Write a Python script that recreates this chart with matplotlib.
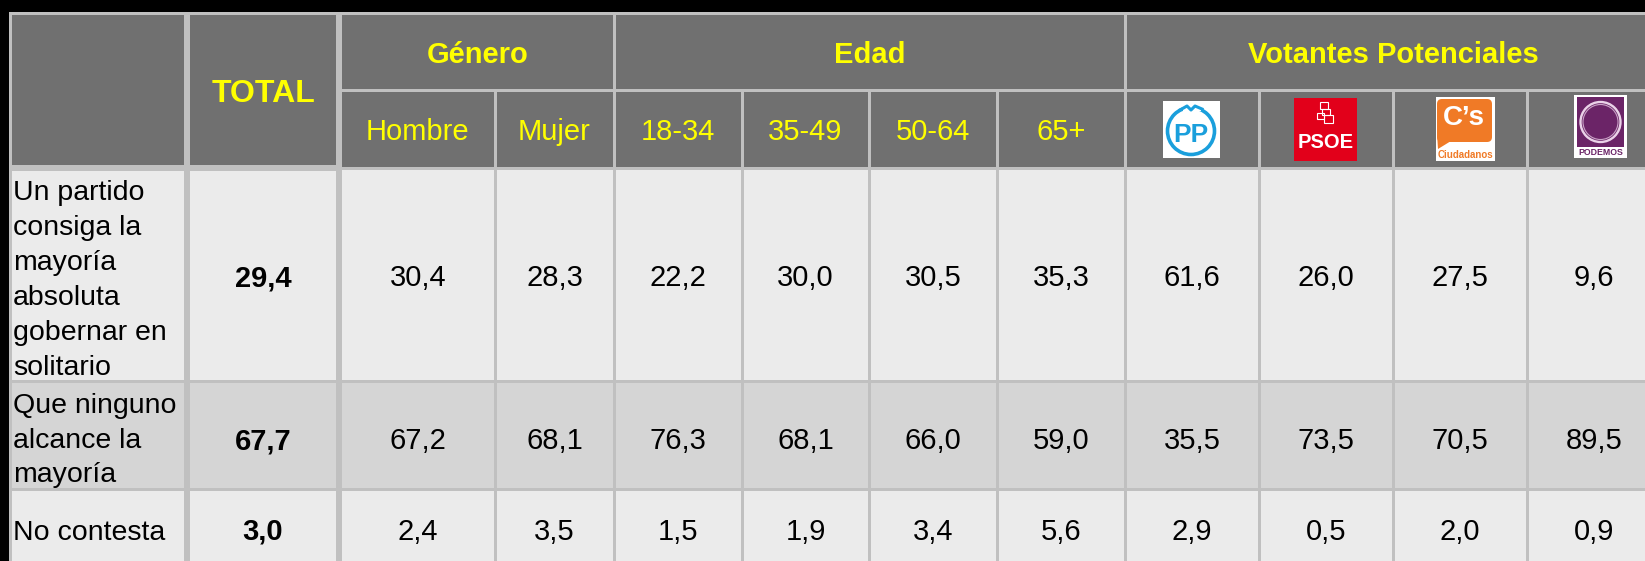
import matplotlib
matplotlib.use("Agg")
import matplotlib.pyplot as plt
from matplotlib.patches import Rectangle, Circle, FancyBboxPatch, Polygon

plt.rcParams['font.family'] = ['Liberation Sans', 'DejaVu Sans']

# ---------------- data ----------------
row_labels = [
    ["Un partido", "consiga la", "mayoría", "absoluta", "gobernar en", "solitario"],
    ["Que ninguno", "alcance la", "mayoría"],
    ["No contesta"],
]
group_labels = ["Género", "Edad", "Votantes Potenciales"]
group_spans = [(1, 2), (3, 6), (7, 10)]          # value-column index ranges
sub_labels = ["Hombre", "Mujer", "18-34", "35-49", "50-64", "65+"]
parties = ["PP", "PSOE", "C’s", "PODEMOS"]
total_label = "TOTAL"

row1 = [29.4, 30.4, 28.3, 22.2, 30.0, 30.5, 35.3, 61.6, 26.0, 27.5, 9.6]
row2 = [67.7, 67.2, 68.1, 76.3, 68.1, 66.0, 59.0, 35.5, 73.5, 70.5, 89.5]
row3 = [3.0, 2.4, 3.5, 1.5, 1.9, 3.4, 5.6, 2.9, 0.5, 2.0, 0.9]
values = [row1, row2, row3]

# ---------------- layout (pixels) ----------------
W, H = 1645, 561
xb = [10, 187, 339, 495, 614, 742, 869, 997, 1125, 1259, 1393, 1527, 1661]
vgap = [3, 6, 6, 3, 3, 3, 3, 3, 3, 3, 3, 3, 3]
y_top, y_split, y_head = 13, 90, 168
yb_rows = [168, 381, 489, 572]
group_base, total_base, sub_base = 63, 102, 140
num_base = [286, 449, 540]
label_base = [200, 413, 540]
label_step = [35, 34.5, 35]

HEAD = "#707070"
LINE = "#c0c0c0"
ROWBG = ["#ebebeb", "#d5d5d5", "#ebebeb"]
YEL = "#ffff00"

fig = plt.figure(figsize=(W / 100, H / 100), dpi=100, facecolor="black")
ax = fig.add_axes([0, 0, 1, 1])
ax.set_xlim(0, W)
ax.set_ylim(H, 0)
ax.axis("off")
ax.set_facecolor("black")

# grid background (line colour)
ax.add_patch(Rectangle((xb[0] - 1.5, y_top - 1.5), xb[-1] - xb[0] + 3, yb_rows[-1] - y_top + 3,
                       facecolor=LINE, edgecolor="none", zorder=0))


def cell(c0, c1, y0, y1, color, hg0=3, hg1=3):
    x0 = xb[c0] + vgap[c0] / 2
    x1 = xb[c1] - vgap[c1] / 2
    ax.add_patch(Rectangle((x0, y0 + hg0 / 2), x1 - x0, (y1 - hg1 / 2) - (y0 + hg0 / 2),
                           facecolor=color, edgecolor="none", zorder=1))
    return (x0 + x1) / 2, (y0 + hg0 / 2 + y1 - hg1 / 2) / 2


# header cells
cell(0, 1, y_top, y_head, HEAD, 3, 6)
cx, cy = cell(1, 2, y_top, y_head, HEAD, 3, 6)
ax.text(cx, total_base, total_label, color=YEL, fontsize=23, fontweight="bold",
        ha="center", va="baseline", zorder=3)

for lab, (a, b) in zip(group_labels, group_spans):
    cx, cy = cell(a + 1, b + 2, y_top, y_split, HEAD)
    ax.text(cx, group_base, lab, color=YEL, fontsize=21, fontweight="bold",
            ha="center", va="baseline", zorder=3)

sub_centers = []
for j in range(2, 12):
    cx, cy = cell(j, j + 1, y_split, y_head, HEAD)
    sub_centers.append((cx, cy))
for (cx, cy), lab in zip(sub_centers[:6], sub_labels):
    ax.text(cx, sub_base, lab, color=YEL, fontsize=21, ha="center", va="baseline", zorder=3)

# ---------------- logos ----------------
# PP
cx, cy = sub_centers[6]
ax.add_patch(Rectangle((cx - 29, cy - 28), 57, 57, facecolor="white", edgecolor="none", zorder=3))
ax.add_patch(Circle((cx - 1, cy + 2), 23.5, facecolor="none", edgecolor="#1a9fdc", lw=2.6, zorder=4))
ax.add_patch(Rectangle((cx - 9, cy - 25), 18, 7, facecolor="white", edgecolor="none", zorder=5))
ax.plot([cx - 12, cx - 5, cx - 1, cx + 3, cx + 10], [cy - 19, cy - 23, cy - 19, cy - 23, cy - 20],
        color="#1a9fdc", lw=2.2, zorder=6)
ax.text(cx - 1, cy + 13, parties[0], color="#1a9fdc", fontsize=19, fontweight="bold",
        ha="center", va="baseline", zorder=6)
# PSOE
cx, cy = sub_centers[7]
ax.add_patch(Rectangle((cx - 32, cy - 31.5), 63, 63, facecolor="#e2001a", edgecolor="none", zorder=3))
for (rx, ry, rw, rh) in [(-6, -27, 8, 7), (-4, -20, 8, 6), (-9, -16, 7, 6), (-2, -14, 9, 8)]:
    ax.add_patch(Rectangle((cx + rx, cy + ry), rw, rh, facecolor="none", edgecolor="white", lw=0.8, zorder=4))
ax.text(cx - 0.5, cy + 19, parties[1], color="white", fontsize=14.5, fontweight="bold",
        ha="center", va="baseline", zorder=5)
# Ciudadanos
cx, cy = sub_centers[8]
ax.add_patch(Rectangle((cx - 24.5, cy - 32), 59, 64, facecolor="white", edgecolor="none", zorder=3))
ax.add_patch(FancyBboxPatch((cx - 23, cy - 30), 55, 43, boxstyle="round,pad=0,rounding_size=5",
                            facecolor="#f07a26", edgecolor="none", zorder=4))
ax.add_patch(Polygon([[cx - 23, cy + 5], [cx - 22, cy + 20], [cx - 9, cy + 12]], closed=True,
                     facecolor="#f07a26", edgecolor="none", zorder=4))
ax.text(cx + 4, cy - 4, parties[2], color="white", fontsize=20, fontweight="bold",
        ha="center", va="baseline", zorder=5)
ax.text(cx + 5, cy + 26, "Ciudadanos", color="#f07a26", fontsize=7.0, fontweight="bold",
        ha="center", va="center", zorder=5)
# Podemos
cx, cy = sub_centers[9]
ax.add_patch(Rectangle((cx - 20, cy - 34), 53, 63, facecolor="white", edgecolor="none", zorder=3))
ax.add_patch(Rectangle((cx - 17, cy - 32), 47, 50, facecolor="#6b2467", edgecolor="none", zorder=4))
ax.add_patch(Circle((cx + 6.5, cy - 7), 20, facecolor="none", edgecolor="#ead2e8", lw=1.7, zorder=5))
ax.add_patch(Circle((cx + 6.5, cy - 7), 17.5, facecolor="none", edgecolor="#c9a2c6", lw=0.8, zorder=5))
ax.text(cx + 6.5, cy + 23.5, parties[3], color="#6b2467", fontsize=6.3, fontweight="bold",
        ha="center", va="center", zorder=5)

# ---------------- body ----------------
for i, (lines, vals) in enumerate(zip(row_labels, values)):
    y0, y1 = yb_rows[i], yb_rows[i + 1]
    hg0 = 6 if i == 0 else 3
    cell(0, 1, y0, y1, ROWBG[i], hg0, 3)
    for k, line in enumerate(lines):
        ax.text(xb[0] + 3, label_base[i] + k * label_step[i], line, color="black", fontsize=20.5,
                ha="left", va="baseline", zorder=3)
    for j, v in enumerate(vals):
        hg = hg0 if j == 0 else 3
        cx, cy = cell(j + 1, j + 2, y0, y1, ROWBG[i], hg, 3)
        txt = f"{v:.1f}".replace(".", ",")
        ax.text(cx, num_base[i], txt, color="black", fontsize=21,
                fontweight="bold" if j == 0 else "normal", ha="center", va="baseline", zorder=3)

fig.savefig("out.png", dpi=100, facecolor="black")
